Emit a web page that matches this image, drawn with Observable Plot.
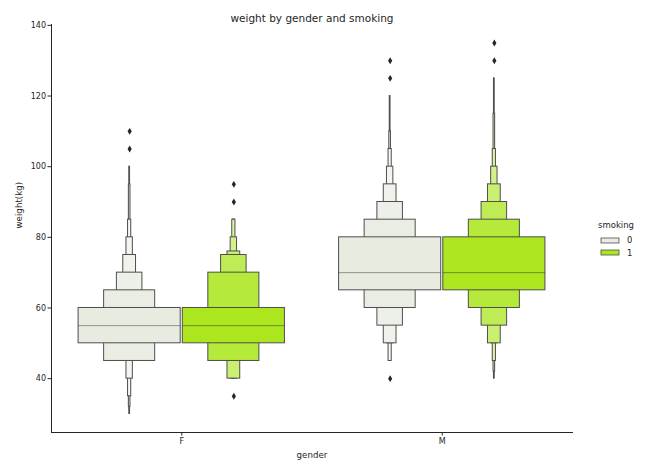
<!DOCTYPE html>
<html><head><meta charset="utf-8">
<script src="https://cdn.jsdelivr.net/npm/d3@7"></script>
<script src="https://cdn.jsdelivr.net/npm/@observablehq/plot@0.6"></script>
<style>
body{margin:0;background:#fff;font-family:"DejaVu Sans",sans-serif;}
#wrap{position:relative;width:649px;height:465px;overflow:hidden;}
#wrap > svg{position:absolute;left:0;top:0;}
#legend{position:absolute;left:598px;top:219px;font-family:"DejaVu Sans",sans-serif;font-size:8.5px;color:#262626;}
#legend .ttl{line-height:12px;height:12px;margin-bottom:3px;}
#legend .lg-swatches{margin:0 0 0 3px;font-size:8.5px;font-family:"DejaVu Sans",sans-serif;}
#legend .lg-swatch{height:12.5px;padding-bottom:0;}
#legend .lg-swatch > svg{margin-right:8px;}
#legend .lg-swatch svg rect{stroke:#4e4e4e;stroke-width:0.8;}
</style></head><body>
<div id="wrap"></div>
<script>
// ---- data ----
const genders = ["F", "M"];
const smokingLevels = ["0", "1"];
const smokingColors = ["#e7ebe0", "#abe61f"];
const yTicks = [40, 60, 80, 100, 120, 140];

const medianF0 = 55, medianF1 = 55, medianM0 = 70, medianM1 = 70;
const upperF0 = [60, 65, 70, 75, 80, 85, 95, 100];
const lowerF0 = [50, 45, 45, 45, 40, 35, 32, 30];
const outliersF0 = [110, 105];
const upperF1 = [60, 70, 75, 76, 80, 85, 85, 85];
const lowerF1 = [50, 45, 45, 40, 40, 40, 40, 40];
const outliersF1 = [95, 90, 35];
const upperM0 = [80, 85, 90, 95, 100, 105, 110, 120];
const lowerM0 = [65, 60, 55, 50, 50, 45, 45, 45];
const outliersM0 = [130, 125, 40];
const upperM1 = [80, 85, 90, 95, 100, 105, 115, 125];
const lowerM1 = [65, 60, 55, 50, 50, 45, 42, 40];
const outliersM1 = [135, 130];

const groups = [
  {gender: "F", smoking: "0", median: medianF0, upper: upperF0, lower: lowerF0, outliers: outliersF0},
  {gender: "F", smoking: "1", median: medianF1, upper: upperF1, lower: lowerF1, outliers: outliersF1},
  {gender: "M", smoking: "0", median: medianM0, upper: upperM0, lower: lowerM0, outliers: outliersM0},
  {gender: "M", smoking: "1", median: medianM1, upper: upperM1, lower: lowerM1, outliers: outliersM1}
];

// ---- layout constants (seaborn-like) ----
const hueOffset = 0.2, boxWidth = 0.392, edgeGray = "#4e4e4e", darkGray = "#262626";
const center = g => genders.indexOf(g.gender) + (smokingLevels.indexOf(g.smoking) - 0.5) * 2 * hueOffset;

const boxes = [];
const medians = [];
const outlierRows = [];
for (const g of groups) {
  const c = center(g);
  const n = g.upper.length;
  const base = smokingColors[smokingLevels.indexOf(g.smoking)];
  for (let k = n - 1; k >= 0; k--) {
    const w = boxWidth * Math.pow(0.5, k);
    boxes.push({
      x1: c - w / 2, x2: c + w / 2,
      lo: g.lower[k], hi: g.upper[k],
      fill: d3.interpolateRgb(base, "#ffffff")(0.85 * k / (n - 1))
    });
  }
  medians.push({x1: c - boxWidth / 2, x2: c + boxWidth / 2, median: g.median});
  for (const v of g.outliers) outlierRows.push({x: c, y: v});
}

const thinDiamond = {
  draw(ctx, size) {
    const r = Math.sqrt(size / Math.PI);
    ctx.moveTo(0, -1.15 * r);
    ctx.lineTo(0.7 * r, 0);
    ctx.lineTo(0, 1.15 * r);
    ctx.lineTo(-0.7 * r, 0);
    ctx.closePath();
  }
};

const chart = Plot.plot({
  width: 649,
  height: 465,
  marginLeft: 51,
  marginRight: 77,
  marginTop: 24,
  marginBottom: 33,
  style: {fontFamily: "DejaVu Sans", fontSize: "8px", color: darkGray, background: "#fff"},
  x: {type: "linear", domain: [-0.5, 1.5], ticks: [0, 1], tickFormat: i => genders[i], tickSize: 3.5, tickPadding: 2, label: null, line: true},
  y: {domain: [24.75, 140.25], ticks: yTicks, tickSize: 3.5, tickPadding: 2, label: null, line: true},
  color: {type: "identity"},
  marks: [
    Plot.rect(boxes, {x1: "x1", x2: "x2", y1: "lo", y2: "hi", fill: "fill", stroke: edgeGray, strokeWidth: 1}),
    Plot.ruleY(medians, {y: "median", x1: "x1", x2: "x2", stroke: darkGray, strokeOpacity: 0.45, strokeWidth: 1}),
    Plot.dot(outlierRows, {x: "x", y: "y", r: 3, symbol: thinDiamond, fill: darkGray, stroke: "none"}),
    Plot.text(["weight by gender and smoking"], {text: d => d, frameAnchor: "top", dy: -10, fontSize: 10.5, fill: darkGray}),
    Plot.text(["gender"], {text: d => d, frameAnchor: "bottom", dy: 25, fontSize: 8.7, fill: darkGray}),
    Plot.text(["weight(kg)"], {text: d => d, frameAnchor: "left", dx: -32, rotate: -90, fontSize: 8.7, fill: darkGray})
  ]
});

const wrap = document.getElementById("wrap");
wrap.appendChild(chart);

const legendDiv = document.createElement("div");
legendDiv.id = "legend";
const ttl = document.createElement("div");
ttl.className = "ttl";
ttl.textContent = "smoking";
legendDiv.appendChild(ttl);
legendDiv.appendChild(Plot.legend({
  color: {type: "ordinal", domain: smokingLevels, range: smokingColors},
  legend: "swatches",
  columns: 1,
  swatchWidth: 18,
  swatchHeight: 5,
  className: "lg"
}));
wrap.appendChild(legendDiv);
</script>
</body></html>
